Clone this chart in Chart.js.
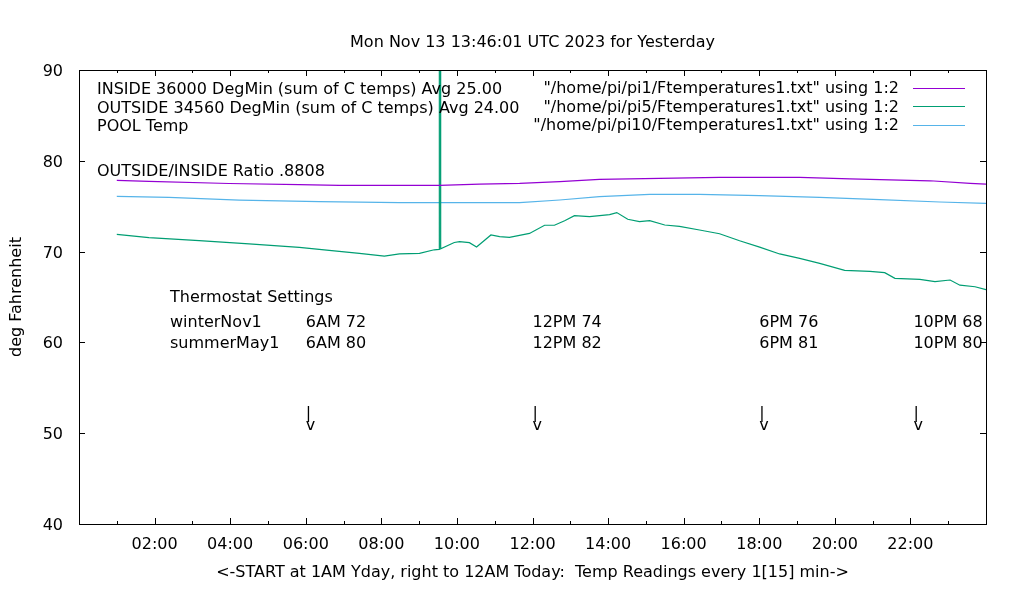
<!DOCTYPE html>
<html><head><meta charset="utf-8">
<script src="https://cdn.jsdelivr.net/npm/chart.js@4/dist/chart.umd.min.js"></script>
<style>html,body{margin:0;padding:0;background:#fff}#wrap{width:1020px;height:600px}canvas{display:block}</style>
</head><body><div id="wrap"><canvas id="c" width="1020" height="600"></canvas></div>
<script>
// ---- data (hours since midnight yesterday, deg F) ----
const insideHours = [1.0, 1.85, 3.97, 5.83, 6.89, 8.2, 9.54, 10.6, 11.66, 12.72, 13.77, 15.36, 16.95, 19.07, 20.4, 22.52, 23.58, 24.0];
const insideTemps = [77.85, 77.74, 77.5, 77.37, 77.3, 77.3, 77.3, 77.44, 77.52, 77.7, 77.96, 78.07, 78.18, 78.18, 78.0, 77.8, 77.52, 77.44];

const outsideHours = [1.0, 1.85, 3.18, 4.5, 5.83, 6.62, 7.42, 8.08, 8.48, 9.01, 9.40, 9.53, 9.535, 9.565, 9.57, 9.93, 10.07, 10.33, 10.52, 10.9, 11.13, 11.39, 11.92, 12.32, 12.58, 12.85, 13.11, 13.51, 14.04, 14.23, 14.52, 14.83, 15.10, 15.50, 15.89, 16.42, 16.95, 17.48, 18.01, 18.54, 19.07, 19.60, 20.26, 20.93, 21.32, 21.59, 22.25, 22.65, 23.05, 23.31, 23.71, 24.0];
const outsideTemps = [71.9, 71.53, 71.2, 70.84, 70.47, 70.14, 69.81, 69.5, 69.74, 69.8, 70.2, 70.25, 120.0, 120.0, 70.3, 71.0, 71.1, 70.98, 70.5, 71.83, 71.64, 71.57, 72.0, 72.9, 72.9, 73.4, 73.96, 73.85, 74.07, 74.3, 73.56, 73.3, 73.4, 72.93, 72.78, 72.38, 71.97, 71.2, 70.5, 69.74, 69.26, 68.71, 67.94, 67.83, 67.68, 67.06, 66.95, 66.7, 66.87, 66.3, 66.13, 65.8];

const poolHours = [1.0, 2.38, 4.24, 6.36, 8.48, 9.54, 11.13, 11.66, 12.72, 13.77, 15.1, 16.42, 18.01, 19.6, 21.19, 22.78, 24.0];
const poolTemps = [76.09, 75.98, 75.68, 75.5, 75.39, 75.39, 75.39, 75.39, 75.68, 76.05, 76.31, 76.31, 76.16, 75.98, 75.72, 75.46, 75.32];

const yTicks = [40, 50, 60, 70, 80, 90];
const xMajorHours = [2, 4, 6, 8, 10, 12, 14, 16, 18, 20, 22];
const xTickLabels = ['02:00','04:00','06:00','08:00','10:00','12:00','14:00','16:00','18:00','20:00','22:00'];
const xMinorHours = [1, 3, 5, 7, 9, 11, 13, 15, 17, 19, 21, 23];

const titleText = 'Mon Nov 13 13:46:01 UTC 2023 for Yesterday';
const xAxisTitle = '<-START at 1AM Yday, right to 12AM Today:  Temp Readings every 1[15] min->';
const yAxisTitle = 'deg Fahrenheit';
const seriesNames = ['"/home/pi/pi1/Ftemperatures1.txt" using 1:2', '"/home/pi/pi5/Ftemperatures1.txt" using 1:2', '"/home/pi/pi10/Ftemperatures1.txt" using 1:2'];
const infoLabels = ['INSIDE 36000 DegMin (sum of C temps) Avg 25.00', 'OUTSIDE 34560 DegMin (sum of C temps) Avg 24.00', 'POOL Temp'];
const ratioLabel = 'OUTSIDE/INSIDE Ratio .8808';
const thermoTitle = 'Thermostat Settings';
const thermoRowNames = ['winterNov1', 'summerMay1'];
const thermoHours = [6, 12, 18, 22.08];
const winterSettings = ['6AM 72', '12PM 74', '6PM 76', '10PM 68'];
const summerSettings = ['6AM 80', '12PM 82', '6PM 81', '10PM 80'];

const colors = ['#9400D3', '#009E73', '#56B4E9'];
const FONT = '16px "DejaVu Sans"';

function pts(hs, vs) { return hs.map((h, i) => ({x: h, y: vs[i]})); }

const gnuplotDecor = {
  id: 'gnuplotDecor',
  afterDatasetsDraw(chart) {
    const ctx = chart.ctx, ca = chart.chartArea;
    const xs = chart.scales.x, ys = chart.scales.y;
    const L = ca.left, R = ca.right, T = ca.top, B = ca.bottom;
    ctx.save();
    ctx.strokeStyle = '#000'; ctx.lineWidth = 1;
    ctx.strokeRect(Math.round(L) + 0.5, Math.round(T) + 0.5, Math.round(R - L), Math.round(B - T));
    ctx.beginPath();
    yTicks.forEach(v => {
      const y = Math.round(ys.getPixelForValue(v)) + 0.5;
      ctx.moveTo(L, y); ctx.lineTo(L + 6, y);
      ctx.moveTo(R, y); ctx.lineTo(R - 6, y);
    });
    xMajorHours.forEach(h => {
      const x = Math.round(xs.getPixelForValue(h)) + 0.5;
      ctx.moveTo(x, B); ctx.lineTo(x, B - 6);
      ctx.moveTo(x, T); ctx.lineTo(x, T + 6);
    });
    xMinorHours.forEach(h => {
      const x = Math.round(xs.getPixelForValue(h)) + 0.5;
      ctx.moveTo(x, B); ctx.lineTo(x, B - 3);
      ctx.moveTo(x, T); ctx.lineTo(x, T + 3);
    });
    ctx.stroke();

    ctx.fillStyle = '#000';
    ctx.font = FONT;
    ctx.textBaseline = 'alphabetic';
    ctx.textAlign = 'right';
    yTicks.forEach(v => ctx.fillText(String(v), L - 16, ys.getPixelForValue(v) + 6));
    ctx.textAlign = 'center';
    xMajorHours.forEach((h, i) => ctx.fillText(xTickLabels[i], xs.getPixelForValue(h), B + 25));
    ctx.fillText(titleText, (L + R) / 2, 47);
    ctx.fillText(xAxisTitle, (L + R) / 2, B + 53);
    ctx.save();
    ctx.translate(21, (T + B) / 2);
    ctx.rotate(-Math.PI / 2);
    ctx.fillText(yAxisTitle, 0, 0);
    ctx.restore();

    ctx.textAlign = 'right';
    const keyY = [T + 23, T + 41.5, T + 60];
    seriesNames.forEach((s, i) => {
      ctx.fillText(s, R - 87, keyY[i]);
      ctx.strokeStyle = colors[i];
      ctx.beginPath();
      ctx.moveTo(R - 73, Math.round(keyY[i] - 5.5) + 0.5);
      ctx.lineTo(R - 21, Math.round(keyY[i] - 5.5) + 0.5);
      ctx.stroke();
    });

    ctx.textAlign = 'left';
    const infoY = [T + 24, T + 42.5, T + 60.5];
    infoLabels.forEach((s, i) => ctx.fillText(s, L + 18, infoY[i]));
    ctx.fillText(ratioLabel, L + 18, T + 106);

    ctx.fillText(thermoTitle, 170, 302);
    ctx.fillText(thermoRowNames[0], 170, 326.5);
    ctx.fillText(thermoRowNames[1], 170, 348);
    thermoHours.forEach((h, i) => {
      const x = xs.getPixelForValue(h);
      ctx.fillText(winterSettings[i], x, 326.5);
      ctx.fillText(summerSettings[i], x, 348);
      ctx.fillText('|', x, 418);
      ctx.fillText('v', x, 430);
    });
    ctx.restore();
  }
};

new Chart(document.getElementById('c'), {
  type: 'line',
  data: {
    datasets: [
      {label: seriesNames[0], data: pts(insideHours, insideTemps), borderColor: colors[0], borderWidth: 1.2, pointRadius: 0, tension: 0},
      {label: seriesNames[1], data: pts(outsideHours, outsideTemps), borderColor: colors[1], borderWidth: 1.2, pointRadius: 0, tension: 0},
      {label: seriesNames[2], data: pts(poolHours, poolTemps), borderColor: colors[2], borderWidth: 1.2, pointRadius: 0, tension: 0}
    ]
  },
  options: {
    responsive: false, animation: false, devicePixelRatio: 1,
    layout: {padding: {left: 79, right: 34, top: 70, bottom: 76}},
    plugins: {legend: {display: false}, title: {display: false}, tooltip: {enabled: false}},
    scales: {
      x: {type: 'linear', min: 0, max: 24, display: false},
      y: {type: 'linear', min: 40, max: 90, display: false}
    }
  },
  plugins: [gnuplotDecor]
});
</script>
</body></html>
